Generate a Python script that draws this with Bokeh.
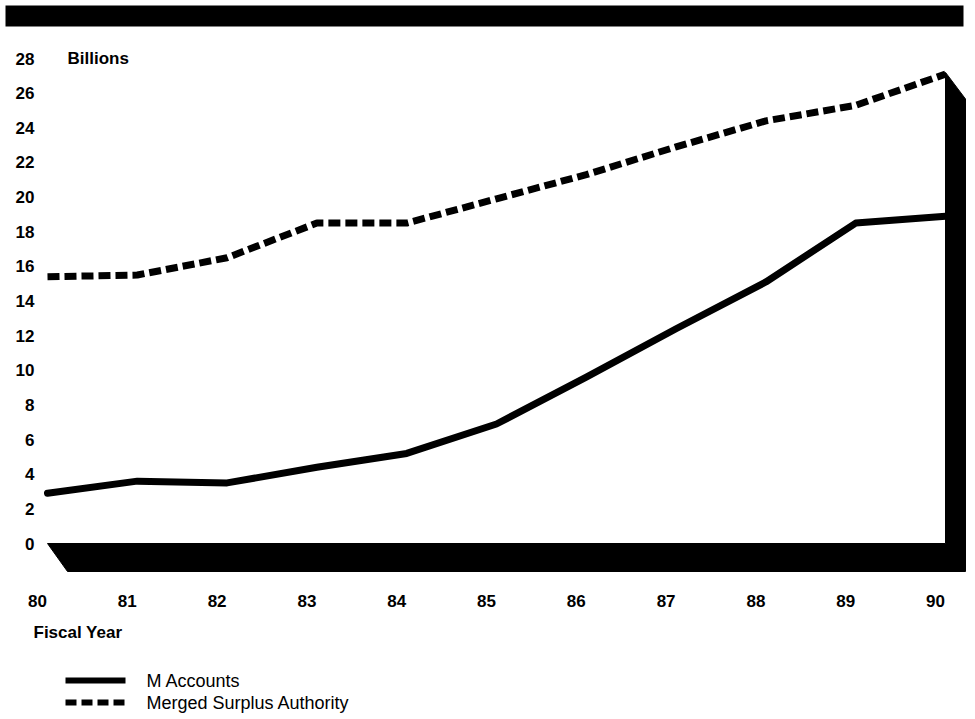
from bokeh.plotting import figure
from bokeh.models import Range1d
from bokeh.core.properties import value
from bokeh.embed import file_html
from bokeh.resources import INLINE

# ---- data ----
years = [80, 81, 82, 83, 84, 85, 86, 87, 88, 89, 90]
year_labels = ["80", "81", "82", "83", "84", "85", "86", "87", "88", "89", "90"]
m_accounts = [2.9, 3.6, 3.5, 4.4, 5.2, 6.9, 9.6, 12.4, 15.1, 18.5, 18.9]
merged_surplus = [15.4, 15.5, 16.5, 18.5, 18.5, 19.9, 21.3, 22.9, 24.4, 25.3, 27.1]
y_ticks = [0, 2, 4, 6, 8, 10, 12, 14, 16, 18, 20, 22, 24, 26, 28]
y_tick_labels = [str(v) for v in y_ticks]
series_names = ["M Accounts", "Merged Surplus Authority"]

FONT = value("Liberation Sans")
W, H = 967, 718
px_x = 89.8   # pixels per year
px_y = 17.32  # pixels per billion
X0 = years[0] - 47 / px_x
X1 = X0 + W / px_x
Y1 = y_ticks[0] + 543 / px_y
Y0 = Y1 - H / px_y

p = figure(width=W, height=H, x_range=Range1d(X0, X1), y_range=Range1d(Y0, Y1),
           output_backend="svg", toolbar_location=None, min_border=0,
           x_axis_location=None, y_axis_location=None)
p.grid.visible = False
p.outline_line_color = None
p.background_fill_color = "white"
p.border_fill_color = "white"

# top black band
p.quad(left=X0 + 5 / px_x, right=years[-1] + 18 / px_x, top=Y1 - 5 / px_y, bottom=Y1 - 26 / px_y,
       fill_color="black", line_color=None)

# 3D floor + right wall
dx, dy = 20 / px_x, 28 / px_y
xs = [years[0], years[-1], years[-1], years[-1] + dx, years[-1] + dx, years[0] + dx]
ys = [0, 0, merged_surplus[-1] + 0.1, merged_surplus[-1] + 0.1 - dy * 0.95, -dy, -dy]
p.patch(xs, ys, fill_color="black", line_color="black", line_width=1)

# series
p.line(years, m_accounts, line_width=7, line_color="black", line_join="round", line_cap="round")
p.line(years, merged_surplus, line_width=7, line_color="black", line_dash="12 5",
       line_join="round", line_cap="butt")

# y tick labels
p.text(x=[years[0]] * len(y_ticks), y=y_ticks, text=y_tick_labels, x_offset=-13,
       text_align="right", text_baseline="middle", text_font=FONT,
       text_font_size="17px", text_font_style="bold", text_color="black")
p.text(x=[years[0]], y=[y_ticks[-1]], text=["Billions"], x_offset=20,
       text_align="left", text_baseline="middle", text_font=FONT,
       text_font_size="17px", text_font_style="bold", text_color="black")

# x tick labels
xl_y = -57 / px_y
p.text(x=years, y=[xl_y] * len(years), text=year_labels, x_offset=-10,
       text_align="center", text_baseline="middle", text_font=FONT,
       text_font_size="17px", text_font_style="bold", text_color="black")
p.text(x=[years[0]], y=[-89 / px_y], text=["Fiscal Year"], x_offset=-14,
       text_align="left", text_baseline="middle", text_font=FONT,
       text_font_size="17px", text_font_style="bold", text_color="black")

# legend (manual)
lx0 = years[0] + 18 / px_x
lx1 = years[0] + 78 / px_x
ly1 = -137 / px_y
ly2 = -159 / px_y
p.line([lx0, lx1], [ly1, ly1], line_width=6, line_color="black")
p.line([lx0, lx1], [ly2, ly2], line_width=6, line_color="black", line_dash="11 5")
p.text(x=[years[0] + 99 / px_x] * 2, y=[ly1, ly2], text=series_names,
       text_align="left", text_baseline="middle", text_font=FONT,
       text_font_size="18px", text_color="black")

open("out.html", "w").write(file_html(p, INLINE))
